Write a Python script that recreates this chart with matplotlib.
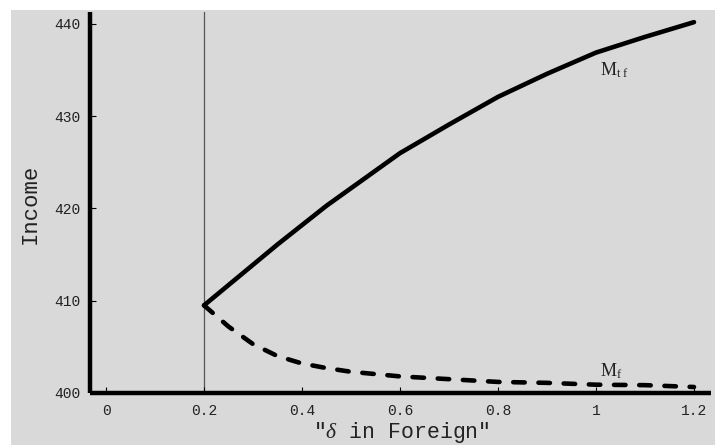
import matplotlib
matplotlib.use("Agg")
import matplotlib.pyplot as plt
from matplotlib.patches import Rectangle

# ---- data ----
delta = [0.2, 0.25, 0.3, 0.35, 0.4, 0.45, 0.5, 0.6, 0.7, 0.8, 0.9, 1.0, 1.1, 1.2]
income_tf = [409.5, 411.7, 413.9, 416.1, 418.2, 420.3, 422.2, 426.0, 429.1, 432.1, 434.6, 436.9, 438.6, 440.2]
income_f = [409.5, 407.2, 405.3, 404.0, 403.2, 402.7, 402.3, 401.8, 401.5, 401.2, 401.1, 400.9, 400.85, 400.65]
xticks = [0, 0.2, 0.4, 0.6, 0.8, 1.0, 1.2]
xticklabels = ["0", "0.2", "0.4", "0.6", "0.8", "1", "1.2"]
yticks = [400, 410, 420, 430, 440]
yticklabels = ["400", "410", "420", "430", "440"]
delta_star = 0.2

plt.rcParams['mathtext.fontset'] = 'custom'
plt.rcParams['mathtext.rm'] = 'Liberation Serif'
plt.rcParams['mathtext.it'] = 'Liberation Serif:italic'
plt.rcParams['mathtext.tt'] = 'Liberation Mono'

W, H = 715, 445
fig = plt.figure(figsize=(W / 100, H / 100), dpi=100)
fig.patch.set_facecolor('white')
bg = '#d9d9d9'
fig.patches.append(Rectangle((11 / W, 0), 1 - 11 / W, 1 - 10 / H, transform=fig.transFigure,
                             facecolor=bg, edgecolor='none', zorder=-10))

ax = fig.add_axes([90 / W, 1 - 393 / H, (711 - 90) / W, (393 - 12) / H])
ax.set_facecolor('none')
ax.set_xlim(-0.0327, 1.2347)
ax.set_ylim(400, 441.3)

ax.axvline(delta_star, color='#555555', lw=0.9, zorder=1)
ax.plot(delta, income_tf, color='black', lw=3.3, solid_capstyle='round', solid_joinstyle='round', zorder=3)
ax.plot(delta, income_f, color='black', lw=3.3, ls=(0, (2.5, 3.0)), dash_capstyle='round', zorder=3)

for s in ['top', 'right']:
    ax.spines[s].set_visible(False)
for s in ['left', 'bottom']:
    ax.spines[s].set_linewidth(3.2)
    ax.spines[s].set_color('black')
    ax.spines[s].set_capstyle('butt')

ax.set_xticks(xticks)
ax.set_xticklabels(xticklabels, fontfamily='Liberation Mono', fontsize=10.5)
ax.set_yticks(yticks)
ax.set_yticklabels(yticklabels, fontfamily='Liberation Mono', fontsize=10.5)
ax.tick_params(axis='x', direction='in', length=4, width=0.8, pad=8, colors='black', labelcolor='#222222')
ax.tick_params(axis='y', direction='in', length=4, width=0.8, pad=7, colors='black', labelcolor='#222222')

ax.text(1.008, 435.0, r'$\mathrm{M}_{\mathrm{t\ f}}$', fontsize=13, ha='left', va='center', color='#222222')
ax.text(1.008, 402.4, r'$\mathrm{M}_{\mathrm{f}}$', fontsize=13, ha='left', va='center', color='#222222')

fig.text(30 / W, 1 - 204 / H, 'Income', rotation=90, ha='center', va='center',
         fontfamily='Liberation Mono', fontsize=16, color='#222222')
fig.text(401 / W, 1 - 438 / H, '"$\\delta$ in Foreign"', ha='center', va='baseline',
         fontfamily='Liberation Mono', fontsize=15.5, color='#222222')

fig.savefig('out.png', dpi=100)
